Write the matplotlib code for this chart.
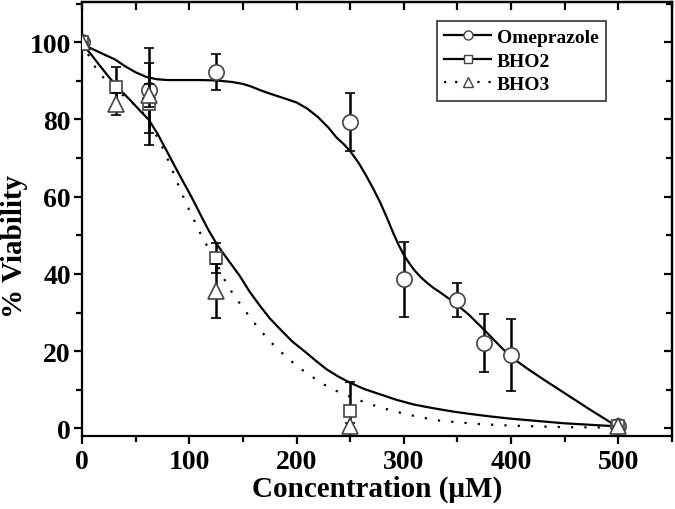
import matplotlib
matplotlib.use("Agg")
import matplotlib.pyplot as plt
from matplotlib.lines import Line2D
from matplotlib.ticker import MultipleLocator

plt.rcParams['font.family'] = ['Liberation Serif', 'DejaVu Serif']
plt.rcParams['font.weight'] = 'bold'

# ---- measured points ----
ome_x = [0, 62.5, 125, 250, 300, 350, 375, 400, 500]
ome_y = [100, 87.5, 92.3, 79.3, 38.6, 33.2, 22.0, 19.0, 0.5]
ome_e = [0, 11, 4.6, 7.6, 9.7, 4.4, 7.5, 9.2, 0]

bho2_x = [0, 31.25, 62.5, 125, 250, 500]
bho2_y = [100, 88.3, 84.0, 44.2, 4.5, 0.5]
bho2_e = [0, 5.3, 10.5, 3.9, 7.4, 0]

bho3_x = [0, 31.25, 62.5, 125, 250, 500]
bho3_y = [100, 84.0, 86.3, 35.6, 0.5, 0.5]
bho3_e = [0, 2.8, 3.0, 7.0, 1.0, 0]

# ---- fitted curves ----
ome_cx = [0, 10, 20, 31, 40, 50, 60, 70, 80, 95, 110, 125, 140, 150, 158, 166, 175,
          185, 200, 210, 220, 230, 237, 244, 250, 258, 265, 272, 278, 284, 290, 295,
          300, 305, 310, 316, 322, 328, 334, 345, 360, 375, 390, 400, 415, 430, 450,
          475, 500]
ome_cy = [99.5, 98.2, 96.9, 95.5, 93.8, 92.2, 91.0, 90.4, 90.2, 90.2, 90.2, 90.1,
          89.7, 89.2, 88.5, 87.6, 86.7, 85.8, 84.4, 82.8, 80.6, 77.8, 75.4, 73.6,
          71.8, 68.7, 65.4, 61.8, 58.5, 54.7, 50.7, 47.6, 44.9, 42.8, 40.9, 39.1,
          37.6, 36.3, 35.2, 33.0, 29.6, 25.5, 21.2, 18.5, 15.5, 12.7, 9.1, 4.6, 0.3]

bho2_cx = [0, 8, 15, 25, 35, 45, 55, 62, 70, 80, 88, 95, 100, 106, 112, 118, 125,
           131, 137, 147, 156, 166, 175, 185, 196, 209, 218, 228, 239, 250, 263, 278,
           293, 309, 320, 334, 347, 360, 380, 400, 425, 450, 475, 500]
bho2_cy = [99.5, 97, 94.5, 91, 87.8, 85, 82, 80, 76.5, 71.3, 67.1, 63.5, 61, 57.8,
           54.5, 51.3, 48, 45.6, 43.3, 39.5, 35.5, 31.7, 28.5, 25.6, 22.5, 19.6, 17.5,
           15.3, 13.4, 11.8, 10.2, 8.8, 7.4, 6.2, 5.6, 4.9, 4.3, 3.8, 3.1, 2.5, 1.9,
           1.3, 0.9, 0.5]

bho3_cx = [0, 10, 17, 30, 45, 56, 65, 73, 82, 92, 100, 110, 118, 125, 135, 142, 150,
           158, 166, 175, 185, 195, 205, 216, 226, 237, 256, 278, 303, 330, 365, 400,
           450, 500]
bho3_cy = [100, 94.5, 91.7, 88, 84.8, 82, 78, 74, 68.4, 61.5, 56.5, 50.7, 46.5, 43,
           37.3, 34.3, 31.3, 28.2, 25.5, 22.6, 19.9, 17.4, 15.2, 13.1, 11.3, 9.7, 7.5,
           5.4, 3.6, 2.1, 1.2, 0.7, 0.3, 0.2]

labels = ['Omeprazole', 'BHO2', 'BHO3']

fig = plt.figure(figsize=(6.75, 5.1), dpi=100)
ax = fig.add_axes([0.1215, 0.143, 0.874, 0.851])

lw = 1.6
ax.plot(ome_cx, ome_cy, color='black', lw=lw, zorder=2)
ax.plot(bho2_cx, bho2_cy, color='black', lw=lw, zorder=2)
ax.plot(bho3_cx, bho3_cy, color='black', lw=lw, linestyle=(0, (1, 5)), zorder=2)

mec = '#444444'
ekw = dict(ecolor='black', elinewidth=1.8, capsize=3.5, capthick=1.8, linestyle='none')
ax.errorbar(ome_x, ome_y, yerr=ome_e, marker='o', ms=11, mfc='white', mec=mec, mew=1.2,
            zorder=3, **ekw)
ax.errorbar(bho2_x, bho2_y, yerr=bho2_e, marker='s', ms=9, mfc='white', mec=mec, mew=1.2,
            zorder=4, **ekw)
ax.errorbar(bho3_x, bho3_y, yerr=bho3_e, marker='^', ms=11, mfc='white', mec=mec, mew=1.2,
            zorder=5, **ekw)

ax.set_xlim(0, 550)
ax.set_ylim(-2, 110.4)
ax.xaxis.set_major_locator(MultipleLocator(100))
ax.xaxis.set_minor_locator(MultipleLocator(50))
ax.yaxis.set_major_locator(MultipleLocator(20))
ax.yaxis.set_minor_locator(MultipleLocator(10))
ax.set_yticks([0, 20, 40, 60, 80, 100])

for s in ax.spines.values():
    s.set_linewidth(1.6)

ax.tick_params(axis='both', which='major', direction='out', length=6, width=1.6,
               labelsize=20, pad=2)
ax.tick_params(axis='x', which='major', pad=3)
ax.tick_params(axis='both', which='minor', direction='out', length=4, width=1.6)
# mirrored inward ticks on top/right
axt = ax.secondary_xaxis('top')
axt.xaxis.set_major_locator(MultipleLocator(50))
axt.tick_params(direction='in', length=6, width=1.6, labeltop=False)
axt.spines['top'].set_linewidth(1.6)
axr = ax.secondary_yaxis('right')
axr.yaxis.set_major_locator(MultipleLocator(20))
axr.yaxis.set_minor_locator(MultipleLocator(10))
axr.tick_params(which='major', direction='in', length=6, width=1.6, labelright=False)
axr.tick_params(which='minor', direction='in', length=4, width=1.6, labelright=False)
axr.spines['right'].set_linewidth(1.6)

for t in ax.get_xticklabels() + ax.get_yticklabels():
    t.set_fontweight('bold')

ax.set_xlabel('Concentration (μM)', fontsize=21, fontweight='bold')
ax.xaxis.set_label_coords(0.5, -0.088)
ax.xaxis.label.set_verticalalignment('top')
ax.set_ylabel('% Viability', fontsize=21, fontweight='bold')
ax.yaxis.set_label_coords(-0.092, 0.44)

handles = [
    Line2D([], [], color='black', lw=lw, marker='o', ms=6.5, mfc='white', mec=mec, mew=1.0),
    Line2D([], [], color='black', lw=lw, marker='s', ms=6, mfc='white', mec=mec, mew=1.0),
    Line2D([], [], color='black', lw=lw, linestyle=(0, (1, 4)), marker='^', ms=7,
           mfc='white', mec=mec, mew=1.0),
]
leg = ax.legend(handles, labels, loc='upper right', bbox_to_anchor=(0.889, 0.957),
                borderaxespad=0, frameon=True, fancybox=False,
                handlelength=2.4, labelspacing=0.3, handletextpad=0.3,
                borderpad=0.4, prop={'weight': 'bold', 'size': 14})
leg.get_frame().set_edgecolor('black')
leg.get_frame().set_linewidth(1.2)

fig.savefig('out.png', dpi=100)
